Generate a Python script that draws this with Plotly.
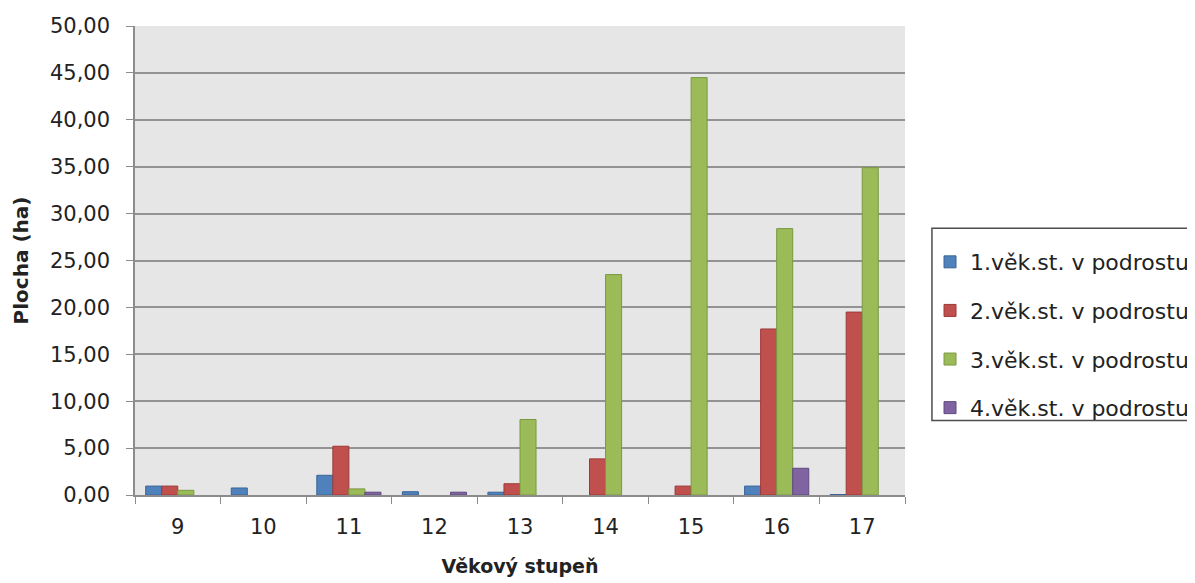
import plotly.graph_objects as go

categories = ["9", "10", "11", "12", "13", "14", "15", "16", "17"]
series_names = ["1.věk.st. v podrostu", "2.věk.st. v podrostu",
                "3.věk.st. v podrostu", "4.věk.st. v podrostu"]
s1 = [0.95, 0.75, 2.1, 0.35, 0.3, None, None, 0.95, 0.05]
s2 = [0.95, None, 5.2, None, 1.2, 3.85, 0.95, 17.7, 19.5]
s3 = [0.5, None, 0.65, None, 8.05, 23.5, 44.5, 28.4, 34.9]
s4 = [None, None, 0.3, 0.3, None, None, None, 2.85, None]
y_ticks = [0, 5, 10, 15, 20, 25, 30, 35, 40, 45, 50]
y_tick_labels = ["0,00", "5,00", "10,00", "15,00", "20,00", "25,00",
                 "30,00", "35,00", "40,00", "45,00", "50,00"]

colors = ["#4f81bd", "#c0504d", "#9bbb59", "#8064a2"]
outlines = ["#3a6496", "#9c3a37", "#7a9a40", "#5f4a80"]

FONT = "DejaVu Sans"
TXT = "#222222"
fig = go.Figure()
for i, (name, vals) in enumerate(zip(series_names, [s1, s2, s3, s4])):
    fig.add_trace(go.Bar(
        x=categories, y=vals, name=name, legendgroup=f"g{i}",
        marker=dict(color=colors[i], line=dict(color=outlines[i], width=1)),
    ))

# legend frame
fig.add_shape(type="rect", xref="paper", yref="paper",
              x0=1.035, x1=1.5, y0=0.159, y1=0.569,
              line=dict(color="#4d4d4d", width=1.5), fillcolor="rgba(0,0,0,0)",
              layer="above")

fig.update_layout(
    width=1187, height=575,
    margin=dict(l=127, r=290, t=18, b=88, autoexpand=False),
    paper_bgcolor="white", plot_bgcolor="#e6e6e6",
    barmode="group", bargap=0.25, bargroupgap=0.0,
    font=dict(family=FONT, size=21, color=TXT),
    legend=dict(x=1.0325, y=0.5415, xanchor="left", yanchor="top",
                borderwidth=0, bgcolor="rgba(0,0,0,0)",
                tracegroupgap=17, font=dict(size=22, family=FONT, color=TXT)),
    xaxis=dict(
        type="category", tickson="boundaries", ticks="outside", ticklen=7,
        tickcolor="#8c8c8c", showline=True, linecolor="#8c8c8c", linewidth=1.5,
        showgrid=False, ticklabelstandoff=12, automargin=False,
        title=dict(text="<b>Věkový stupeň</b>", font=dict(size=19, family=FONT, color=TXT), standoff=22),
    ),
    yaxis=dict(
        range=[0, 50], tickvals=y_ticks, ticktext=y_tick_labels,
        ticks="outside", ticklen=7, tickcolor="#8c8c8c", automargin=False,
        showline=True, linecolor="#8c8c8c", linewidth=1.5, ticklabelstandoff=12,
        showgrid=True, gridcolor="#939393", gridwidth=1.8, zeroline=False,
        title=dict(text="<b>Plocha (ha)</b>", font=dict(size=20, family=FONT, color=TXT), standoff=16),
    ),
)
fig.write_html("out.html")
